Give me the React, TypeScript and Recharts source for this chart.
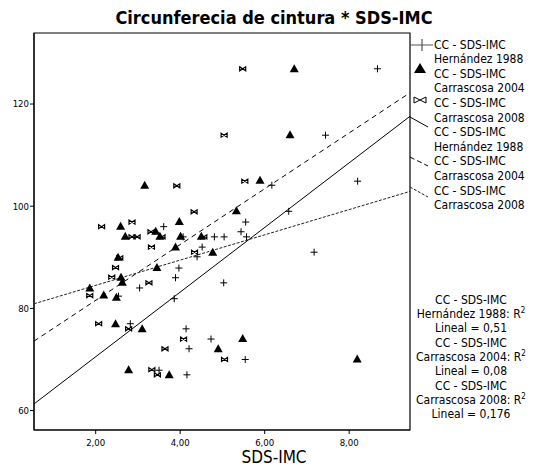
import React from "react";
import { ScatterChart, Scatter, XAxis, YAxis, ReferenceArea } from "recharts";

// SDS-IMC (x) vs waist circumference (y)
const hernandez1988 = [
  { x: 3.61, y: 96.0 }, { x: 4.07, y: 94.0 }, { x: 4.81, y: 94.0 }, { x: 5.04, y: 94.0 },
  { x: 4.52, y: 92.0 }, { x: 4.4, y: 90.1 }, { x: 3.97, y: 87.9 }, { x: 3.89, y: 86.0 },
  { x: 5.03, y: 85.0 }, { x: 3.04, y: 84.0 }, { x: 2.54, y: 82.4 }, { x: 3.86, y: 81.9 },
  { x: 2.82, y: 77.0 }, { x: 4.14, y: 76.0 }, { x: 4.73, y: 74.0 }, { x: 4.21, y: 72.1 },
  { x: 5.54, y: 70.0 }, { x: 3.5, y: 67.9 }, { x: 4.16, y: 67.0 }, { x: 5.44, y: 95.0 },
  { x: 5.55, y: 96.9 }, { x: 5.57, y: 94.0 }, { x: 6.17, y: 104.1 }, { x: 6.57, y: 99.0 },
  { x: 7.17, y: 91.0 }, { x: 7.44, y: 113.9 }, { x: 8.2, y: 104.9 }, { x: 8.67, y: 126.9 },
];

const carrascosa2004 = [
  { x: 2.59, y: 96.1 }, { x: 3.98, y: 97.0 }, { x: 3.42, y: 95.1 }, { x: 3.16, y: 104.1 },
  { x: 6.7, y: 126.9 }, { x: 6.6, y: 114.0 }, { x: 5.89, y: 105.1 }, { x: 5.33, y: 99.1 },
  { x: 2.7, y: 94.1 }, { x: 3.52, y: 94.1 }, { x: 4.01, y: 94.1 }, { x: 4.5, y: 94.1 },
  { x: 3.89, y: 92.0 }, { x: 4.77, y: 91.0 }, { x: 2.53, y: 90.0 }, { x: 3.45, y: 88.0 },
  { x: 2.6, y: 86.1 }, { x: 2.63, y: 85.1 }, { x: 1.86, y: 84.0 }, { x: 2.19, y: 82.6 },
  { x: 2.49, y: 82.2 }, { x: 2.47, y: 77.0 }, { x: 3.1, y: 76.0 }, { x: 5.48, y: 74.1 },
  { x: 4.9, y: 72.1 }, { x: 8.19, y: 70.1 }, { x: 2.78, y: 68.0 }, { x: 3.74, y: 67.0 },
];

const carrascosa2008 = [
  { x: 2.14, y: 96.0 }, { x: 2.86, y: 96.9 }, { x: 3.92, y: 104.0 }, { x: 4.33, y: 98.9 },
  { x: 3.31, y: 95.0 }, { x: 5.48, y: 126.9 }, { x: 5.04, y: 113.9 }, { x: 5.53, y: 104.9 },
  { x: 2.86, y: 94.0 }, { x: 2.98, y: 94.0 }, { x: 3.57, y: 94.0 }, { x: 4.56, y: 94.0 },
  { x: 3.32, y: 92.0 }, { x: 4.34, y: 91.0 }, { x: 2.57, y: 89.9 }, { x: 2.47, y: 88.0 },
  { x: 2.38, y: 86.1 }, { x: 3.26, y: 85.0 }, { x: 1.86, y: 82.5 }, { x: 2.07, y: 77.0 },
  { x: 2.78, y: 76.0 }, { x: 4.08, y: 74.0 }, { x: 3.64, y: 72.1 }, { x: 5.05, y: 70.0 },
  { x: 3.33, y: 68.0 }, { x: 3.46, y: 67.0 },
];

// linear fits, end points at the frame edges
const fitHernandez = [{ x: 0.54, y: 61.3 }, { x: 9.44, y: 117.6 }];
const fit2004 = [{ x: 0.54, y: 73.6 }, { x: 9.44, y: 122.2 }];
const fit2008 = [{ x: 0.54, y: 80.9 }, { x: 9.44, y: 102.9 }];

const xDomain = [0.54, 9.44];
const yDomain = [56.2, 133.9];
const xTicks = [2, 4, 6, 8];
const yTicks = [60, 80, 100, 120];

const seriesNames = ["Hernández 1988", "Carrascosa 2004", "Carrascosa 2008"];
const r2Values = ["0,51", "0,08", "0,176"];

const font = "'DejaVu Sans Condensed', 'DejaVu Sans', sans-serif";

const PlusDot = (p: any) => (
  <path d={`M${p.cx - 3.5},${p.cy}h7M${p.cx},${p.cy - 3.5}v7`} stroke="#000" strokeWidth={1} fill="none" />
);
const TriDot = (p: any) => (
  <path d={`M${p.cx},${p.cy - 4.5}L${p.cx + 4.5},${p.cy + 3.5}L${p.cx - 4.5},${p.cy + 3.5}Z`} fill="#000" />
);
const BowDot = (p: any) => (
  <path
    d={`M${p.cx - 3},${p.cy - 2}L${p.cx + 3},${p.cy + 2}L${p.cx + 3},${p.cy - 2}L${p.cx - 3},${p.cy + 2}Z`}
    fill="none"
    stroke="#000"
    strokeWidth={1.2}
  />
);
const NoDot = () => <g />;

const Legend = () => {
  const lines: string[] = [];
  seriesNames.forEach((n) => lines.push("CC - SDS-IMC", n));
  seriesNames.forEach((n) => lines.push("CC - SDS-IMC", n));
  return (
    <>
      <svg width={534} height={468} style={{ position: "absolute", left: 0, top: 0 }}>
        <path d="M410,45h23M422,39v12" stroke="#555" strokeWidth={1.2} />
        <path d="M420,63L426,73L414,73Z" fill="#000" />
        <path d="M414,97L426,103L426,97L414,103Z" fill="none" stroke="#000" />
        <path d="M410,117L428,127" stroke="#000" />
        <path d="M410,157L428,166" stroke="#000" strokeDasharray="5 3" />
        <path d="M410,187L428,197" stroke="#222" strokeDasharray="3 1.5" />
      </svg>
      <div style={{ position: "absolute", left: 434, top: 37.7, fontFamily: font, fontSize: 12, lineHeight: "14.6px", whiteSpace: "nowrap" }}>
        {lines.map((l, i) => (
          <div key={i}>{l}</div>
        ))}
      </div>
    </>
  );
};

const RSquared = () => (
  <div style={{ position: "absolute", left: 404, width: 134, top: 292.8, textAlign: "center", fontFamily: font, fontSize: 12, lineHeight: "14.3px", whiteSpace: "nowrap" }}>
    {seriesNames.map((n, i) => (
      <React.Fragment key={n}>
        <div>CC - SDS-IMC</div>
        <div>
          {n}: R<sup style={{ fontSize: 8, lineHeight: 0 }}>2</sup>
        </div>
        <div>Lineal = {r2Values[i]}</div>
      </React.Fragment>
    ))}
  </div>
);

export default function App() {
  return (
    <div style={{ position: "absolute", left: 0, top: 0, width: 534, height: 468, background: "#fff", overflow: "hidden" }}>
      <div style={{ position: "absolute", left: 0, width: 548, top: 7, textAlign: "center", fontFamily: font, fontWeight: "bold", fontSize: 18, lineHeight: "22px" }}>
        Circunferecia de cintura * SDS-IMC
      </div>
      <ScatterChart width={534} height={468} margin={{ top: 33, right: 124, bottom: 0, left: 0 }}>
        <XAxis
          type="number"
          dataKey="x"
          domain={xDomain}
          ticks={xTicks}
          allowDataOverflow
          height={38}
          tickSize={4}
          tickMargin={5}
          stroke="#000"
          tick={{ fontSize: 9.5, fill: "#000", fontFamily: font }}
          tickFormatter={(v: number) => v.toFixed(2).replace(".", ",")}
        />
        <YAxis
          type="number"
          dataKey="y"
          domain={yDomain}
          ticks={yTicks}
          allowDataOverflow
          width={34}
          tickSize={4}
          tickMargin={1}
          stroke="#000"
          tick={{ fontSize: 9.5, fill: "#000", fontFamily: font }}
        />
        <ReferenceArea x1={xDomain[0]} x2={xDomain[1]} y1={yDomain[0]} y2={yDomain[1]} fill="none" stroke="#000" strokeWidth={1.2} />
        <Scatter data={fitHernandez} line={{ stroke: "#000", strokeWidth: 1 }} shape={NoDot} isAnimationActive={false} />
        <Scatter data={fit2004} line={{ stroke: "#000", strokeWidth: 1, strokeDasharray: "5 4" }} shape={NoDot} isAnimationActive={false} />
        <Scatter data={fit2008} line={{ stroke: "#222", strokeWidth: 1, strokeDasharray: "3 1.5" }} shape={NoDot} isAnimationActive={false} />
        <Scatter data={hernandez1988} shape={PlusDot} isAnimationActive={false} />
        <Scatter data={carrascosa2004} shape={TriDot} isAnimationActive={false} />
        <Scatter data={carrascosa2008} shape={BowDot} isAnimationActive={false} />
      </ScatterChart>
      <div style={{ position: "absolute", left: 0, width: 548, top: 446, textAlign: "center", fontFamily: font, fontSize: 17, lineHeight: "22px" }}>
        SDS-IMC
      </div>
      <Legend />
      <RSquared />
    </div>
  );
}
